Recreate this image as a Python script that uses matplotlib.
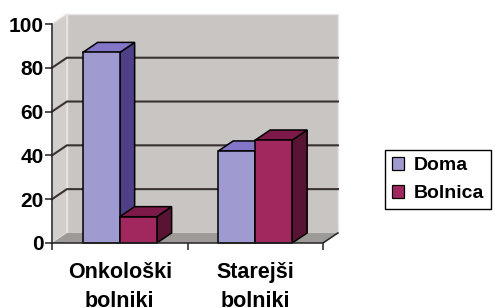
#!/usr/bin/env python3

#==============================================================================
# 3d-look clustered bar chart: Doma vs Bolnica
#==============================================================================

import matplotlib
matplotlib.use('Agg')
import matplotlib.pyplot as plt
from matplotlib.patches import Polygon, Patch

#==============================================================================
# data
#==============================================================================

Categories = ['Onkološki\nbolniki', 'Starejši\nbolniki']
SeriesNames = ['Doma', 'Bolnica']
Doma    = [87, 42]
Bolnica = [12, 47]
YTicks  = [0, 20, 40, 60, 80, 100]

#==============================================================================
# style values
#==============================================================================

plt.rcParams['font.family'] = ['Liberation Sans', 'DejaVu Sans']
plt.rcParams['font.weight'] = 'bold'

FaceColors = ['#9f9ad0', '#a0285e']
TopColors  = ['#8376c6', '#7e1a4a']
SideColors = ['#4e3f87', '#5a1433']
WallColor  = '#c9c5c2'
SideWall   = '#d2cecb'
FloorColor = '#9e9a98'
GridColor  = '#3a3232'

BarWidth = 0.273
DX = 0.11   # depth offset in x data units
DY = 4.6    # depth offset in y data units

fig = plt.figure(figsize=(4.95, 3.08), dpi=100)
ax = fig.add_axes([52/495, 1 - 243/308, 271/495, 219/308])
ax.set_xlim(-0.5, 1.5)
ax.set_ylim(0, 100)

def Poly(Points, Face, Edge='none', Lw=0.0, Z=1):
  ax.add_patch(Polygon(Points, closed=True, facecolor=Face, edgecolor=Edge,
    linewidth=Lw, zorder=Z, clip_on=False))

#==============================================================================
# walls and floor
#==============================================================================

x0, x1 = -0.5, 1.5
Poly([(x0+DX, DY), (x1+DX, DY), (x1+DX, 100+DY), (x0+DX, 100+DY)],
  WallColor, '#e8e6e4', 1.0, Z=0.5)
Poly([(x0, 0), (x0+DX, DY), (x0+DX, 100+DY), (x0, 100)],
  SideWall, '#e8e6e4', 1.0, Z=0.6)
Poly([(x0, 0), (x1, 0), (x1+DX, DY), (x0+DX, DY)], FloorColor, Z=0.7)

for y in YTicks[1:-1]:
  ax.plot([x0, x0+DX, x1+DX], [y, y+DY, y+DY], color=GridColor,
    linewidth=1.5, zorder=0.8, clip_on=False)

# front floor edge and right diagonal
ax.plot([x0, x1, x1+DX], [0, 0, DY], color='#222222', linewidth=1.1,
  zorder=5, clip_on=False)

#==============================================================================
# bars
#==============================================================================

for Index, Values in enumerate([Doma, Bolnica]):
  for Cat, Value in enumerate(Values):
    Left = Cat - BarWidth + Index * BarWidth
    Right = Left + BarWidth
    Poly([(Right, 0), (Right+DX, DY), (Right+DX, Value+DY), (Right, Value)],
      SideColors[Index], 'black', 1.1, Z=2+Index)
    Poly([(Left, Value), (Right, Value), (Right+DX, Value+DY),
      (Left+DX, Value+DY)], TopColors[Index], 'black', 1.1, Z=2+Index)
    Poly([(Left, 0), (Right, 0), (Right, Value), (Left, Value)],
      FaceColors[Index], 'black', 1.1, Z=2+Index)

#==============================================================================
# axes
#==============================================================================

for Side in ['top', 'right', 'bottom']:
  ax.spines[Side].set_visible(False)
ax.spines['left'].set_color('#222222')
ax.spines['left'].set_linewidth(1.1)
ax.spines['left'].set_zorder(5)

ax.set_yticks(YTicks)
ax.tick_params(axis='y', length=5, width=1.1, pad=1, labelsize=15,
  color='#222222')
ax.set_xticks([-0.5, 0.5, 1.5])
ax.set_xticklabels([])
ax.tick_params(axis='x', which='major', length=5, width=1.1, color='#222222')
ax.set_xticks([0, 1], minor=True)
ax.set_xticklabels(Categories, minor=True, fontsize=15.5, linespacing=1.45)
ax.tick_params(axis='x', which='minor', length=0, pad=14)

Handles = [Patch(facecolor=FaceColors[i], edgecolor='black', linewidth=0.9)
  for i in range(2)]
fig.legend(Handles, SeriesNames, loc='upper left',
  bbox_to_anchor=(385/495, 1 - 150/308), fancybox=False, edgecolor='black',
  framealpha=1, fontsize=14, handlelength=0.65, handleheight=0.65,
  handletextpad=0.5, borderpad=0.35, labelspacing=0.55, borderaxespad=0)

fig.savefig('out.png', dpi=100)
